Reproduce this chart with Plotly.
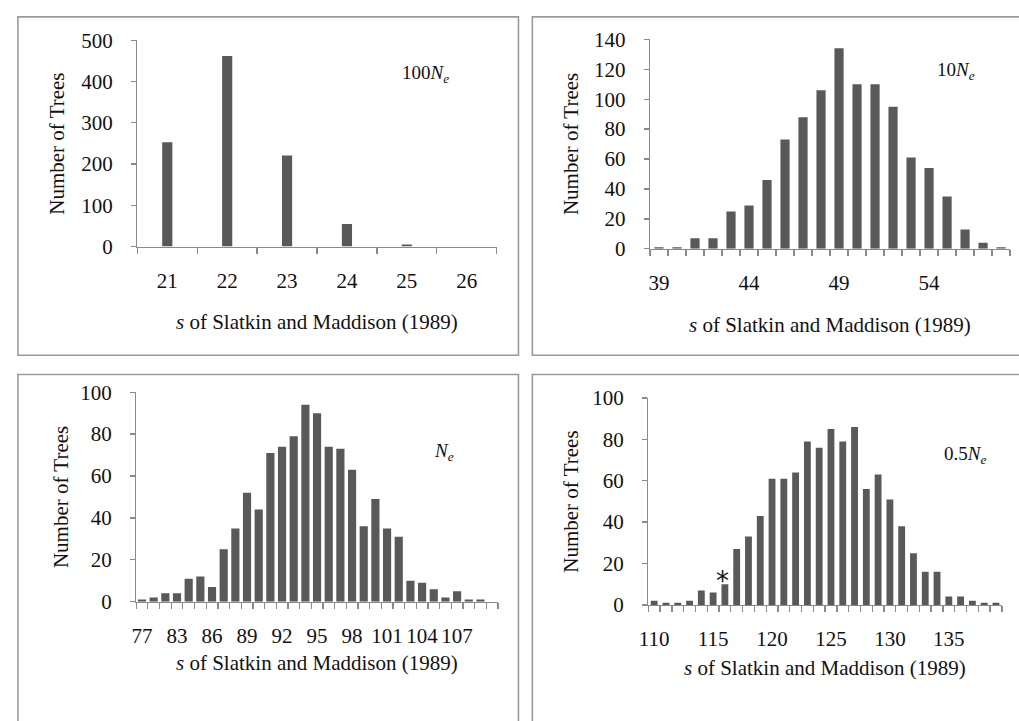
import plotly.graph_objects as go

W, H = 1019, 721

# ---------------- data ----------------
cats_100 = ["21", "22", "23", "24", "25", "26"]
vals_100 = [253, 462, 221, 55, 5, 0]
labels_100 = ["21", "22", "23", "24", "25", "26"]

cats_10 = ["39", "40", "41", "42", "43", "44", "45", "46", "47", "48",
           "49", "50", "51", "52", "53", "54", "55", "56", "57", "58"]
vals_10 = [1, 1, 7, 7, 25, 29, 46, 73, 88, 106,
           134, 110, 110, 95, 61, 54, 35, 13, 4, 1]
labels_10 = ["39", "44", "49", "54"]

cats_1 = ["77", "81", "82", "83", "84", "85", "86", "87", "88", "89",
          "90", "91", "92", "93", "94", "95", "96", "97", "98", "99",
          "100", "101", "102", "103", "104", "105", "106", "107", "108", "109", "110"]
vals_1 = [1, 2, 4, 4, 11, 12, 7, 25, 35, 52,
          44, 71, 74, 79, 94, 90, 74, 73, 63, 36,
          49, 35, 31, 10, 9, 6, 2, 5, 1, 1, 0]
labels_1 = ["77", "83", "86", "89", "92", "95", "98", "101", "104", "107"]

cats_05 = ["110", "111", "112", "113", "114", "115", "116", "117", "118", "119",
           "120", "121", "122", "123", "124", "125", "126", "127", "128", "129",
           "130", "131", "132", "133", "134", "135", "136", "137", "138", "139"]
vals_05 = [2, 1, 1, 2, 7, 6, 10, 27, 33, 43,
           61, 61, 64, 79, 76, 85, 79, 86, 56, 63,
           51, 38, 25, 16, 16, 4, 4, 2, 1, 1]
labels_05 = ["110", "115", "120", "125", "130", "135"]

panel_labels = ["100<i>N<sub>e</sub></i>", "10<i>N<sub>e</sub></i>",
                "<i>N<sub>e</sub></i>", "0.5<i>N<sub>e</sub></i>"]
star_category = "116"

# ---------------- style ----------------
FONT = "Liberation Serif, Times New Roman, serif"
TXT = "#111111"
BAR = "#595959"
AX = "#8a8a8a"
BOX = "#9a9a9a"


def px_x(p):
    return p / W


def px_y(p):
    return 1 - p / H


# plot areas in pixels: (left, right, top, bottom)
areas = [
    (129.5, 492.0, 29.2, 242.7),
    (646.7, 1010.0, 28.3, 245.0),
    (128.3, 493.3, 393.3, 610.0),
    (645.0, 1001.7, 399.3, 613.3),
]
panels = [
    (cats_100, vals_100, labels_100, 500, 100, 0.17),
    (cats_10, vals_10, labels_10, 140, 20, 0.51),
    (cats_1, vals_1, labels_1, 100, 20, 0.70),
    (cats_05, vals_05, labels_05, 100, 20, 0.58),
]
label_pos = [(420, 64), (955, 61), (439, 455), (965, 458)]
ytitle_shift = [-80, -79, -75, -77]
xtitle_shift = [-75, -76, -61, -63]

fig = go.Figure()
layout = dict(
    autosize=True,
    margin=dict(l=0, r=0, t=0, b=0),
    paper_bgcolor="white", plot_bgcolor="white",
    showlegend=False,
    font=dict(family=FONT, color=TXT, size=21),
)
annotations = []
shapes = []

for i, ((cats, vals, labs, ymax, dy, bw), (l, r, t, b)) in enumerate(zip(panels, areas)):
    n = len(cats)
    xs = list(range(n))
    sfx = "" if i == 0 else str(i + 1)
    xa, ya = "x" + sfx, "y" + sfx
    fig.add_trace(go.Bar(x=xs, y=vals, width=bw, marker=dict(color=BAR, line=dict(width=0)),
                         xaxis=xa, yaxis=ya, hoverinfo="skip"))
    layout["xaxis" + sfx] = dict(
        domain=[px_x(l), px_x(r)], anchor=ya, range=[-0.5, n - 0.5],
        showgrid=False, zeroline=False, showline=True, linecolor=AX, linewidth=1.3,
        tickmode="array", tickvals=[cats.index(c) for c in labs], ticktext=labs,
        ticks="", ticklabelstandoff=15, tickfont=dict(family=FONT, size=21, color=TXT),
        minor=dict(tickmode="array", tickvals=[k - 0.5 for k in range(n + 1)],
                   ticks="outside", ticklen=6, tickcolor=AX, tickwidth=1.3, showgrid=False),
        fixedrange=True,
    )
    layout["yaxis" + sfx] = dict(
        domain=[px_y(b), px_y(t)], anchor=xa, range=[0, ymax],
        showgrid=False, zeroline=False, showline=True, linecolor=AX, linewidth=1.3,
        tickmode="linear", tick0=0, dtick=dy,
        ticks="outside", ticklen=5, tickcolor=AX, tickwidth=1.3,
        ticklabelstandoff=14, tickfont=dict(family=FONT, size=21, color=TXT),
        fixedrange=True,
    )
    annotations.append(dict(
        text="Number of Trees", textangle=-90, showarrow=False,
        xref=xa + " domain", yref=ya + " domain", x=0, y=0.5,
        xanchor="center", yanchor="middle", xshift=ytitle_shift[i],
        font=dict(family=FONT, size=21, color=TXT)))
    annotations.append(dict(
        text="<i>s</i> of Slatkin and Maddison (1989)", showarrow=False,
        xref=xa + " domain", yref=ya + " domain", x=0.5, y=0,
        xanchor="center", yanchor="middle", yshift=xtitle_shift[i],
        font=dict(family=FONT, size=21, color=TXT)))
    lx, ly = label_pos[i]
    annotations.append(dict(
        text=panel_labels[i], showarrow=False, xref="paper", yref="paper",
        x=px_x(lx), y=px_y(ly), xanchor="center", yanchor="middle",
        font=dict(family=FONT, size=19, color=TXT)))

# star over the marked bar in the 0.5Ne panel
si = cats_05.index(star_category)
annotations.append(dict(
    text="*", showarrow=False, xref="x4", yref="y4", x=si, y=vals_05[si],
    xanchor="center", yanchor="bottom", xshift=-2, yshift=-14,
    font=dict(family="DejaVu Sans", size=26, color=TXT)))

# panel frames
for (x0, x1, y0, y1) in [(9, 514, 5, 355), (528, 1030, 5, 355),
                         (9, 514, 375, 735), (528, 1030, 375, 735)]:
    shapes.append(dict(type="rect", xref="paper", yref="paper",
                       x0=px_x(x0), x1=px_x(x1), y0=px_y(y1), y1=px_y(y0),
                       line=dict(color=BOX, width=1.6), fillcolor="rgba(0,0,0,0)", layer="below"))

layout["annotations"] = annotations
layout["shapes"] = shapes
fig.update_layout(**layout)

fig.write_html("out.html", config={"displayModeBar": False, "staticPlot": True, "responsive": True},
               default_width="1019px; position:fixed; left:0px; top:0px",
               default_height="721px")
